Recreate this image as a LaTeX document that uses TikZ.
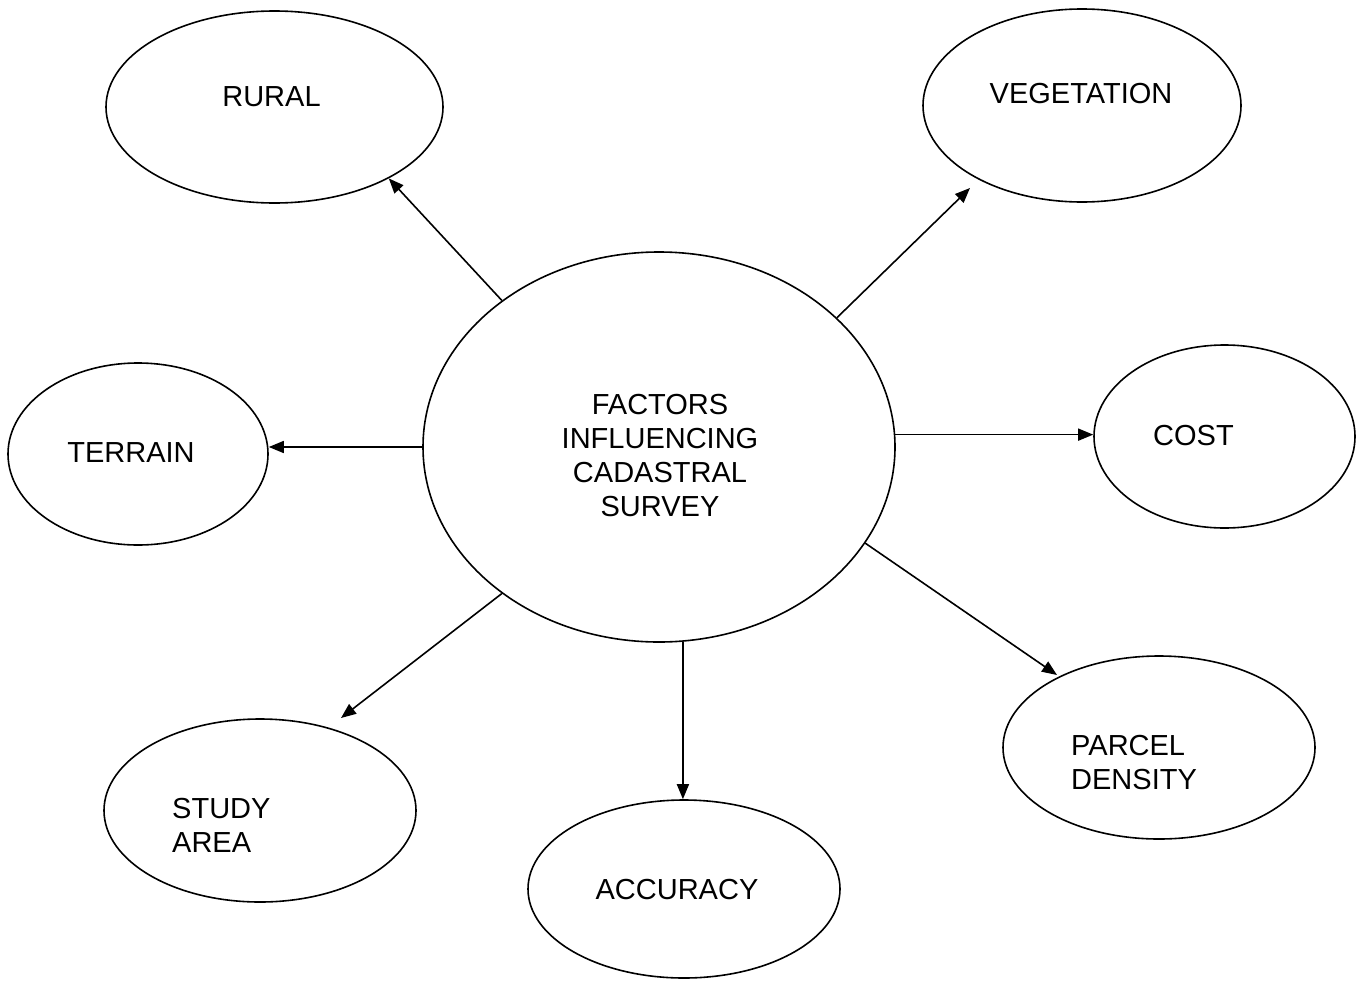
\documentclass[tikz,border=0pt]{standalone}
\usepackage{fontspec}
\setmainfont{Liberation Sans}
\usetikzlibrary{shapes.geometric,arrows.meta,calc}

\begin{document}
\begin{tikzpicture}[x=1pt,y=-1pt,
  oval/.style={draw, ellipse, line width=1.6pt, inner sep=0pt},
  lbl/.style={inner sep=0pt, font=\fontsize{29}{34}\selectfont},
  arr/.style={line width=1.6pt, -{Triangle[length=15pt,width=12pt]}}]

  % canvas
  \fill[white] (0,0) rectangle (1359,980);
  \useasboundingbox (0,0) rectangle (1359,980);

  % ellipses
  \node[oval, minimum width=472pt, minimum height=390pt] (c) at (659,447) {};
  \node[oval, minimum width=337pt, minimum height=192pt] (r) at (274.5,107) {};
  \node[oval, minimum width=318pt, minimum height=193pt] (v) at (1082,105.5) {};
  \node[oval, minimum width=260pt, minimum height=182pt] (t) at (138,454) {};
  \node[oval, minimum width=261pt, minimum height=183pt] (k) at (1224.5,436.5) {};
  \node[oval, minimum width=312pt, minimum height=183pt] (s) at (260,810.5) {};
  \node[oval, minimum width=312pt, minimum height=178pt] (a) at (684,889) {};
  \node[oval, minimum width=312pt, minimum height=183pt] (p) at (1159,747.5) {};

  % labels
  \node[lbl, anchor=north, align=center] (tc) at (660,394)
    {FACTORS\\INFLUENCING\\CADASTRAL\\SURVEY};
  \node[lbl, anchor=base] (tr) at (271.5,106) {RURAL};
  \node[lbl, anchor=base] (tv) at (1081,103) {VEGETATION};
  \node[lbl, anchor=base] (tt) at (131,462) {TERRAIN};
  \node[lbl, anchor=base] (tk) at (1193.5,445) {COST};
  \node[lbl, anchor=base] (ta) at (677,899) {ACCURACY};
  \node[lbl, anchor=north west, align=left] (ts) at (172,798) {STUDY\\AREA};
  \node[lbl, anchor=north west, align=left] (tp) at (1071,735) {PARCEL\\DENSITY};

  % connectors
  \draw[arr] (c.137.8) -- (r.-32.7);
  \draw[arr] (c.36.3) -- ($(v.center)+(-112,82.5)$);
  \draw[arr] (c.west) -- (c.west -| t.east);
  \draw[arr] (c.3.4) -- (c.3.4 -| k.west);
  \draw[arr] (c.-83.8) -- (c.-83.8 |- a.north);
  \draw[arr] (c.-137.1) -- ($(s.center)+(81,-92.5)$);
  \draw[arr] (c.-25.7) -- ($(p.center)+(-102,-72.5)$);
\end{tikzpicture}
\end{document}
